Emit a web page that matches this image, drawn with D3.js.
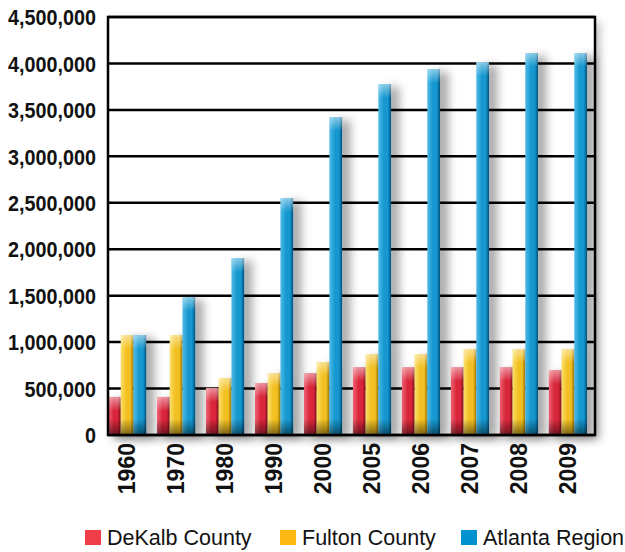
<!DOCTYPE html>
<html><head><meta charset="utf-8">
<script src="https://cdn.jsdelivr.net/npm/d3@7"></script>
<style>
html,body{margin:0;padding:0;background:#fff;}
svg{display:block;font-family:"Liberation Sans",Arial,Helvetica,sans-serif;}
</style></head>
<body>
<svg id="chart" width="625" height="552"></svg>
<script>
const categories = ["1960","1970","1980","1990","2000","2005","2006","2007","2008","2009"];
const seriesNames = ["DeKalb County","Fulton County","Atlanta Region"];
const dekalb  = [410000,410000,505000,560000,667000,730000,730000,730000,730000,700000];
const fulton  = [1076000,1076000,614000,667000,786000,872000,872000,926000,926000,926000];
const atlanta = [1076000,1486000,1905000,2551000,3423000,3778000,3940000,4015000,4112000,4112000];
const yTicks = [0,500000,1000000,1500000,2000000,2500000,3000000,3500000,4000000,4500000];
const seriesValues = [dekalb, fulton, atlanta];
const colors = [
  {base:"#d9263a", light:"#ee6273", dark:"#7d0d1a", legend:"#ef3e4a"},
  {base:"#f2c020", light:"#fadf6a", dark:"#9c7408", legend:"#fdb913"},
  {base:"#1497cf", light:"#4fbbe6", dark:"#004f7a", legend:"#0093d0"}
];

const svg = d3.select("#chart");
const pLeft = 108, pRight = 595, pTop = 17, pBottom = 435;

const y = d3.scaleLinear().domain([0,4500000]).range([pBottom, pTop]);
const x0 = d3.scaleBand().domain(categories).range([pLeft, 587]).paddingInner(0.22).paddingOuter(0);
const x1 = d3.scaleBand().domain(seriesNames).range([0, x0.bandwidth()]).padding(0);

const defs = svg.append("defs");
colors.forEach((c,i)=>{
  const g = defs.append("linearGradient").attr("id","hg"+i).attr("x1","0").attr("x2","1").attr("y1","0").attr("y2","0");
  g.append("stop").attr("offset","0").attr("stop-color",c.light);
  g.append("stop").attr("offset","0.45").attr("stop-color",c.base);
  g.append("stop").attr("offset","0.75").attr("stop-color",c.base);
  g.append("stop").attr("offset","1").attr("stop-color",c.dark);
});
const tg = defs.append("linearGradient").attr("id","topHi").attr("x1","0").attr("x2","0").attr("y1","0").attr("y2","1");
tg.append("stop").attr("offset","0").attr("stop-color","#fff").attr("stop-opacity",0.5);
tg.append("stop").attr("offset","1").attr("stop-color","#fff").attr("stop-opacity",0);
const bg = defs.append("linearGradient").attr("id","botDk").attr("x1","0").attr("x2","0").attr("y1","0").attr("y2","1");
bg.append("stop").attr("offset","0").attr("stop-color","#000").attr("stop-opacity",0);
bg.append("stop").attr("offset","1").attr("stop-color","#000").attr("stop-opacity",0.5);
const f = defs.append("filter").attr("id","shadow").attr("x","-50%").attr("y","-20%").attr("width","300%").attr("height","140%");
f.append("feDropShadow").attr("dx",8).attr("dy",3).attr("stdDeviation",5).attr("flood-color","#000").attr("flood-opacity",0.35);
const ff = defs.append("filter").attr("id","frameShadow").attr("x","-5%").attr("y","-5%").attr("width","115%").attr("height","115%");
ff.append("feDropShadow").attr("dx",5).attr("dy",5).attr("stdDeviation",4).attr("flood-color","#000").attr("flood-opacity",0.25);

// frame shadow
svg.append("rect").attr("x",pLeft).attr("y",pTop).attr("width",pRight-pLeft).attr("height",pBottom-pTop)
  .attr("fill","#fff").attr("filter","url(#frameShadow)");

// gridlines
svg.append("g").selectAll("line").data(yTicks).join("line")
  .attr("x1",pLeft).attr("x2",pRight).attr("y1",d=>y(d)).attr("y2",d=>y(d))
  .attr("stroke","#000").attr("stroke-width",2.5);

// bars
const groups = svg.append("g").selectAll("g").data(categories).join("g")
  .attr("transform",d=>`translate(${x0(d)},0)`);
seriesNames.forEach((s,si)=>{
  const gs = groups.append("g").attr("filter","url(#shadow)");
  gs.append("rect")
    .attr("x",x1(s)).attr("width",x1.bandwidth())
    .attr("y",(d,i)=>y(seriesValues[si][i])).attr("height",(d,i)=>pBottom-y(seriesValues[si][i]))
    .attr("fill","url(#hg"+si+")");
  gs.append("rect")
    .attr("x",x1(s)).attr("width",x1.bandwidth())
    .attr("y",(d,i)=>y(seriesValues[si][i])).attr("height",14)
    .attr("fill","url(#topHi)");
  gs.append("rect")
    .attr("x",x1(s)).attr("width",x1.bandwidth())
    .attr("y",pBottom-16).attr("height",16)
    .attr("fill","url(#botDk)");
});

// frame
svg.append("rect").attr("x",pLeft).attr("y",pTop).attr("width",pRight-pLeft).attr("height",pBottom-pTop)
  .attr("fill","none").attr("stroke","#000").attr("stroke-width",2.5);

// y axis labels
const ySc = 0.92;
const yAxis = d3.axisLeft(y).tickValues(yTicks).tickSize(0).tickFormat(d3.format(","));
const ya = svg.append("g").attr("transform",`translate(${pLeft},0)`).call(yAxis);
ya.select(".domain").remove();
ya.selectAll(".tick text").attr("font-size",21.5).attr("font-weight","bold").attr("fill","#111")
  .attr("font-family","'Liberation Sans',Arial,sans-serif").attr("dy","0.36em")
  .attr("x",-12/ySc).attr("transform",`scale(${ySc},1)`);

// x axis labels
const xAxis = d3.axisBottom(x0).tickSize(0).tickPadding(0);
const xa = svg.append("g").attr("transform",`translate(0,${pBottom})`).call(xAxis);
xa.select(".domain").remove();
xa.selectAll("text").attr("font-size",23).attr("font-weight","bold").attr("fill","#111")
  .attr("font-family","'Liberation Sans',Arial,sans-serif")
  .attr("text-anchor","end").attr("transform","rotate(-90)")
  .attr("x",-8).attr("y",0).attr("dy","0.36em");

// legend
const legendX = [85, 280, 461];
const lg = svg.append("g").selectAll("g").data(seriesNames).join("g")
  .attr("transform",(d,i)=>`translate(${legendX[i]},530)`);
lg.append("rect").attr("width",16).attr("height",15).attr("fill",(d,i)=>colors[i].legend);
lg.append("text").attr("x",22).attr("y",15).attr("font-size",21.5).attr("fill","#111")
  .attr("font-family","'Liberation Sans',Arial,sans-serif").text(d=>d);
</script>
</body></html>
